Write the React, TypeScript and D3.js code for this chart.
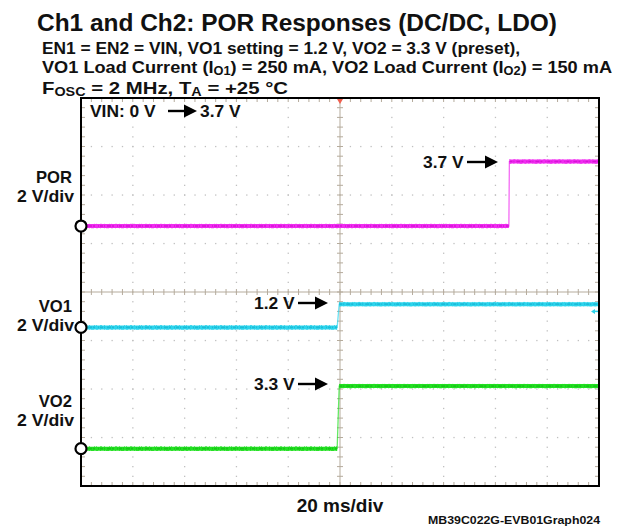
import React from "react";
import * as d3 from "d3";

// ---- data (time in ms, level in screen divisions, 2 V/div) ----
const timeDomain: [number, number] = [-100, 100]; // 20 ms/div, 10 div
const divDomain: [number, number] = [-4, 4]; // 8 vertical div
const xDivs = d3.range(-100, 101, 20);
const yDivs = d3.range(-4, 5, 1);

const porTrace: [number, number][] = [
  [-100, 1.36],
  [65.2, 1.36],
  [65.4, 2.69],
  [100, 2.69],
];
const vo1Trace: [number, number][] = [
  [-100, -0.73],
  [-1.1, -0.73],
  [-0.3, -0.25],
  [100, -0.25],
];
const vo2Trace: [number, number][] = [
  [-100, -3.23],
  [-1.1, -3.23],
  [-0.3, -1.94],
  [100, -1.94],
];
const groundLevels = [1.36, -0.73, -3.23];
const channelNames = ["POR", "VO1", "VO2"];
const channelScale = ["2 V/div", "2 V/div", "2 V/div"];

const W = 629;
const H = 526;
const L = 81;
const R = 599;
const T = 98;
const B = 486;

const FONT = "'Liberation Sans', Arial, sans-serif";

function Trace({ pts, color, dark }: { pts: [number, number][]; color: string; dark: string }) {
  const x = d3.scaleLinear().domain(timeDomain).range([L, R]);
  const y = d3.scaleLinear().domain(divDomain).range([B, T]);
  const line = d3.line<[number, number]>().x((d) => x(d[0])).y((d) => y(d[1]));
  const flats = [
    [pts[0], pts[1]],
    [pts[2], pts[3]],
  ] as [number, number][][];
  return (
    <g>
      <path d={line(pts) || ""} fill="none" stroke={color} strokeWidth={1.3} opacity={0.7} />
      {flats.map((f, i) => (
        <g key={i}>
          <path d={line(f) || ""} fill="none" stroke={color} strokeWidth={4} />
          <path
            d={line(f) || ""}
            fill="none"
            stroke={dark}
            strokeWidth={1.6}
            strokeDasharray="3 1 1 2 4 1 2 3 1 1"
            opacity={0.55}
          />
          <path
            d={line(f.map((p) => [p[0], p[1] + 0.035]) as [number, number][]) || ""}
            fill="none"
            stroke={color}
            strokeWidth={1}
            strokeDasharray="1 3 2 2 1 4 1 1"
          />
          <path
            d={line(f.map((p) => [p[0], p[1] - 0.035]) as [number, number][]) || ""}
            fill="none"
            stroke={color}
            strokeWidth={1}
            strokeDasharray="2 2 1 3 1 1 3 2"
          />
        </g>
      ))}
    </g>
  );
}

function Arrow({ x1, x2, y }: { x1: number; x2: number; y: number }) {
  return (
    <g>
      <line x1={x1} x2={x2 - 11} y1={y} y2={y} stroke="#000" strokeWidth={2.4} />
      <path d={`M${x2 - 13},${y - 6.5} L${x2},${y} L${x2 - 13},${y + 6.5} Z`} fill="#000" />
    </g>
  );
}

export default function App() {
  const x = d3.scaleLinear().domain(timeDomain).range([L, R]);
  const y = d3.scaleLinear().domain(divDomain).range([B, T]);
  const minorX = d3.range(-100, 100.01, 4);
  const minorY = d3.range(-4, 4.001, 0.2);

  return (
    <svg width={W} height={H} style={{ position: "absolute", left: 0, top: 0 }} fontFamily={FONT}>
      <rect x={0} y={0} width={W} height={H} fill="#fff" />
      {/* Titles */}
      <text x={37} y={31} fontSize={24.4} fontWeight="bold" fill="#111" textLength={520} lengthAdjust="spacingAndGlyphs">
        Ch1 and Ch2: POR Responses (DC/DC, LDO)
      </text>
      <g fontSize={17} fontWeight="bold" fill="#111">
        <text x={42} y={54} textLength={478} lengthAdjust="spacingAndGlyphs">
          EN1 = EN2 = VIN, VO1 setting = 1.2 V, VO2 = 3.3 V (preset),
        </text>
        <text x={42} y={72.5} textLength={570} lengthAdjust="spacingAndGlyphs">
          VO1 Load Current (I<tspan fontSize={12} dy={2}>O1</tspan>
          <tspan dy={-2}>) = 250 mA, VO2 Load Current (I</tspan>
          <tspan fontSize={12} dy={2}>O2</tspan>
          <tspan dy={-2}>) = 150 mA</tspan>
        </text>
        <text x={42} y={93.5} textLength={246} lengthAdjust="spacingAndGlyphs">
          F<tspan fontSize={12} dy={2}>OSC</tspan>
          <tspan dy={-2}> = 2 MHz, T</tspan>
          <tspan fontSize={12} dy={2}>A</tspan>
          <tspan dy={-2}> = +25 °C</tspan>
        </text>
      </g>

      {/* Grid dots */}
      <g fill="#c0c0c0">
        {xDivs.slice(1, -1).map((t) =>
          t === 0
            ? null
            : minorY.map((v, i) => <rect key={`gx${t}-${i}`} x={x(t) - 0.6} y={y(v) - 0.6} width={1.3} height={1.3} />)
        )}
        {yDivs.slice(1, -1).map((v) =>
          v === 0
            ? null
            : minorX.map((t, i) => <rect key={`gy${v}-${i}`} x={x(t) - 0.6} y={y(v) - 0.6} width={1.3} height={1.3} />)
        )}
      </g>
      {/* center axes */}
      <g stroke="#b5ab9c" strokeWidth={1}>
        <line x1={L} x2={R} y1={y(0)} y2={y(0)} />
        <line x1={x(0)} x2={x(0)} y1={T} y2={B} />
        {minorX.map((t, i) => (
          <line key={`cx${i}`} x1={x(t)} x2={x(t)} y1={y(0) - 3} y2={y(0) + 3} />
        ))}
        {minorY.map((v, i) => (
          <line key={`cy${i}`} x1={x(0) - 3} x2={x(0) + 3} y1={y(v)} y2={y(v)} />
        ))}
        {/* edge ticks */}
        {minorX.map((t, i) => (
          <g key={`ex${i}`}>
            <line x1={x(t)} x2={x(t)} y1={T} y2={T + 4} />
            <line x1={x(t)} x2={x(t)} y1={B - 4} y2={B} />
          </g>
        ))}
        {minorY.map((v, i) => (
          <g key={`ey${i}`}>
            <line x1={L} x2={L + 4} y1={y(v)} y2={y(v)} />
            <line x1={R - 4} x2={R} y1={y(v)} y2={y(v)} />
          </g>
        ))}
      </g>

      {/* traces */}
      <Trace pts={porTrace} color="#f02cf0" dark="#c000c0" />
      <Trace pts={vo1Trace} color="#2cd4ec" dark="#10a8c8" />
      <Trace pts={vo2Trace} color="#22e022" dark="#10b010" />

      {/* trigger marker */}
      <path d={`M${x(0) - 3},${T + 1} L${x(0) + 3},${T + 1} L${x(0)},${T + 6} Z`} fill="#f06050" />
      {/* cyan trigger level marker */}
      <path d={`M${R - 8},${y(-0.4)} L${R - 4},${y(-0.4) - 2.5} L${R - 4},${y(-0.4) + 2.5} Z`} fill="#2cd4ec" />
      <line x1={R - 5} x2={R - 1} y1={y(-0.4)} y2={y(-0.4)} stroke="#2cd4ec" strokeWidth={1.5} />

      {/* frame */}
      <rect x={L} y={T} width={R - L} height={B - T} fill="none" stroke="#000" strokeWidth={2} />

      {/* ground markers */}
      {groundLevels.map((g, i) => (
        <circle key={`gm${i}`} cx={L} cy={y(g)} r={5.5} fill="#fff" stroke="#000" strokeWidth={2.2} />
      ))}

      {/* channel labels */}
      <g fontSize={16.6} fontWeight="bold" fill="#111" textAnchor="end">
        {channelNames.map((n, i) => {
          const base = [183, 312, 407][i];
          return (
            <g key={n}>
              <text x={72} y={base}>{n}</text>
              <text x={74} y={base + 18.5} textLength={57} lengthAdjust="spacingAndGlyphs">
                {channelScale[i]}
              </text>
            </g>
          );
        })}
      </g>

      {/* annotations */}
      <g fontSize={17.4} fontWeight="bold" fill="#111">
        <text x={90} y={117}>VIN: 0 V</text>
        <Arrow x1={168} x2={197} y={111} />
        <text x={200} y={117}>3.7 V</text>

        <text x={423} y={168}>3.7 V</text>
        <Arrow x1={467} x2={498} y={162} />

        <text x={254} y={309}>1.2 V</text>
        <Arrow x1={298} x2={328} y={303} />

        <text x={254} y={390}>3.3 V</text>
        <Arrow x1={298} x2={328} y={384} />
      </g>

      <text x={340} y={512} fontSize={19} fontWeight="bold" textAnchor="middle" fill="#111">
        20 ms/div
      </text>
      <text x={600} y={524} fontSize={11.5} fontWeight="bold" textAnchor="end" fill="#111" textLength={172} lengthAdjust="spacingAndGlyphs">
        MB39C022G-EVB01Graph024
      </text>
    </svg>
  );
}
